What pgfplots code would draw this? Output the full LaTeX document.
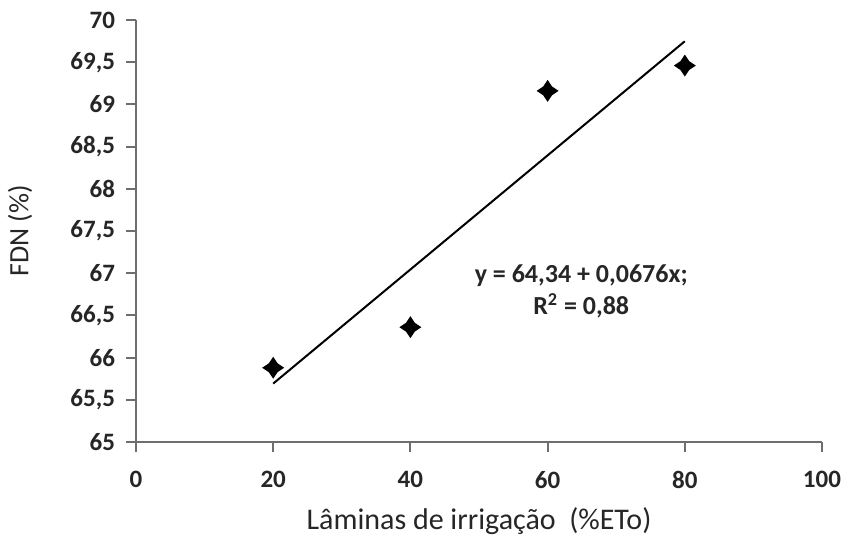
\documentclass[border=0pt]{standalone}
\usepackage{pgfplots}
\pgfplotsset{compat=1.18}
\usepackage{fontspec}
\setmainfont{Carlito}
\pgfdeclareplotmark{cdiamond}{%
  \pgfpathmoveto{\pgfqpoint{0pt}{\pgfplotmarksize}}%
  \pgfpathlineto{\pgfqpoint{0.4\pgfplotmarksize}{0.4\pgfplotmarksize}}%
  \pgfpathlineto{\pgfqpoint{\pgfplotmarksize}{0pt}}%
  \pgfpathlineto{\pgfqpoint{0.4\pgfplotmarksize}{-0.4\pgfplotmarksize}}%
  \pgfpathlineto{\pgfqpoint{0pt}{-\pgfplotmarksize}}%
  \pgfpathlineto{\pgfqpoint{-0.4\pgfplotmarksize}{-0.4\pgfplotmarksize}}%
  \pgfpathlineto{\pgfqpoint{-\pgfplotmarksize}{0pt}}%
  \pgfpathlineto{\pgfqpoint{-0.4\pgfplotmarksize}{0.4\pgfplotmarksize}}%
  \pgfpathclose\pgfusepathqfill}
\definecolor{axgray}{RGB}{110,110,110}
\begin{document}
\begin{tikzpicture}
\useasboundingbox (-68pt,-47pt) rectangle (355pt,221pt);
\begin{axis}[
  scale only axis, width=343pt, height=211pt,
  xmin=0, xmax=100, ymin=65, ymax=70,
  xtick={0,20,...,100}, ytick={65,65.5,...,70},
  axis lines=left, axis line style={axgray, line width=1.1pt, -},
  tick style={axgray, line width=1pt},
  tick align=outside, major tick length=5pt,
  /pgf/number format/assume math mode=true,
  /pgf/number format/use comma,
  /pgf/number format/1000 sep={},
  ticklabel style={font=\bfseries\fontsize{12.5}{14}\selectfont, text=black!85},
  yticklabel style={xshift=-2pt},
  xticklabel style={yshift=-6pt},
  xlabel={Lâminas de irrigação\ \ (\%ETo)},
  ylabel={FDN (\%)},
  xlabel style={font=\fontsize{15}{17}\selectfont, at={(axis description cs:0.5,0)}, anchor=center, yshift=-39.5pt, text=black!85},
  ylabel style={font=\fontsize{14}{16}\selectfont, at={(axis description cs:0,0.5)}, anchor=center, yshift=58pt, text=black!85},
  clip=false,
]
\addplot[black, line width=1pt] coordinates {(20,65.692) (80,69.748)};
\addplot[only marks, mark=cdiamond, mark size=5.5pt, black] coordinates {
  (20,65.88) (40,66.36) (60,69.16) (80,69.46)};
\node[font=\bfseries\fontsize{13}{15}\selectfont, align=center, text=black!85] at (axis cs:64.9,66.79)
  {y = 64,34 + 0,0676x;\\[1pt]R\textsuperscript{2} = 0,88};
\end{axis}
\end{tikzpicture}
\end{document}
